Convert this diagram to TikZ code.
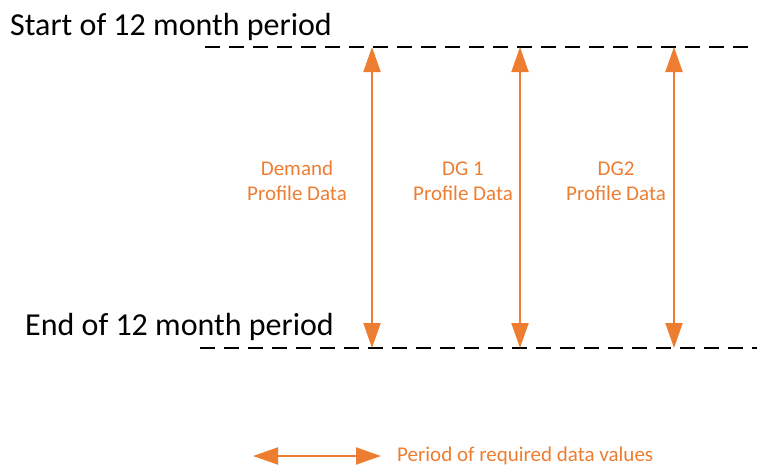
\documentclass[tikz,border=0pt]{standalone}
\usepackage{fontspec}
\setmainfont{Carlito}
\usetikzlibrary{arrows.meta}
\definecolor{accent}{HTML}{ED7D31}
\tikzset{
  boundary/.style={draw=black, line width=1.5pt, dash pattern=on 15pt off 9pt},
  span/.style={draw=accent, line width=2pt, {Triangle[width=17pt,length=25pt]}-{Triangle[width=17pt,length=25pt]}},
  heading/.style={font=\fontsize{32}{36}\selectfont, anchor=base west, inner sep=0pt},
  caption/.style={text=accent, font=\fontsize{21}{25}\selectfont, align=center, inner sep=0pt},
}
\begin{document}
\begin{tikzpicture}[x=1pt,y=-1pt]
\useasboundingbox (0,0) rectangle (757,466);

% period headings
\node[heading] (start) at (10,35) {Start of 12 month period};
\node[heading] (end) at (25,335) {End of 12 month period};

% dashed period boundaries
\coordinate (topL) at (205,47);
\coordinate (topR) at (757,47);
\coordinate (botL) at (200,348);
\coordinate (botR) at (757,348);
\draw[boundary] (topL) -- (topR);
\draw[boundary] (botL) -- (botR);

% data spans
\foreach \n/\x in {dem/372, dgA/520, dgB/674}{
  \coordinate (\n t) at (\x,47);
  \coordinate (\n b) at (\x,348);
  \draw[span] (\n t) -- (\n b);
}

\node[caption] (ldem) at (297,181) {Demand\\Profile Data};
\node[caption] (ldgA) at (463,181) {DG 1\\Profile Data};
\node[caption] (ldgB) at (616,181) {DG2\\Profile Data};

% legend
\coordinate (legL) at (253,456);
\coordinate (legR) at (381,456);
\draw[span] (legL) -- (legR);
\node[caption, anchor=west] (legtext) at (397,456) {Period of required data values};
\end{tikzpicture}
\end{document}
